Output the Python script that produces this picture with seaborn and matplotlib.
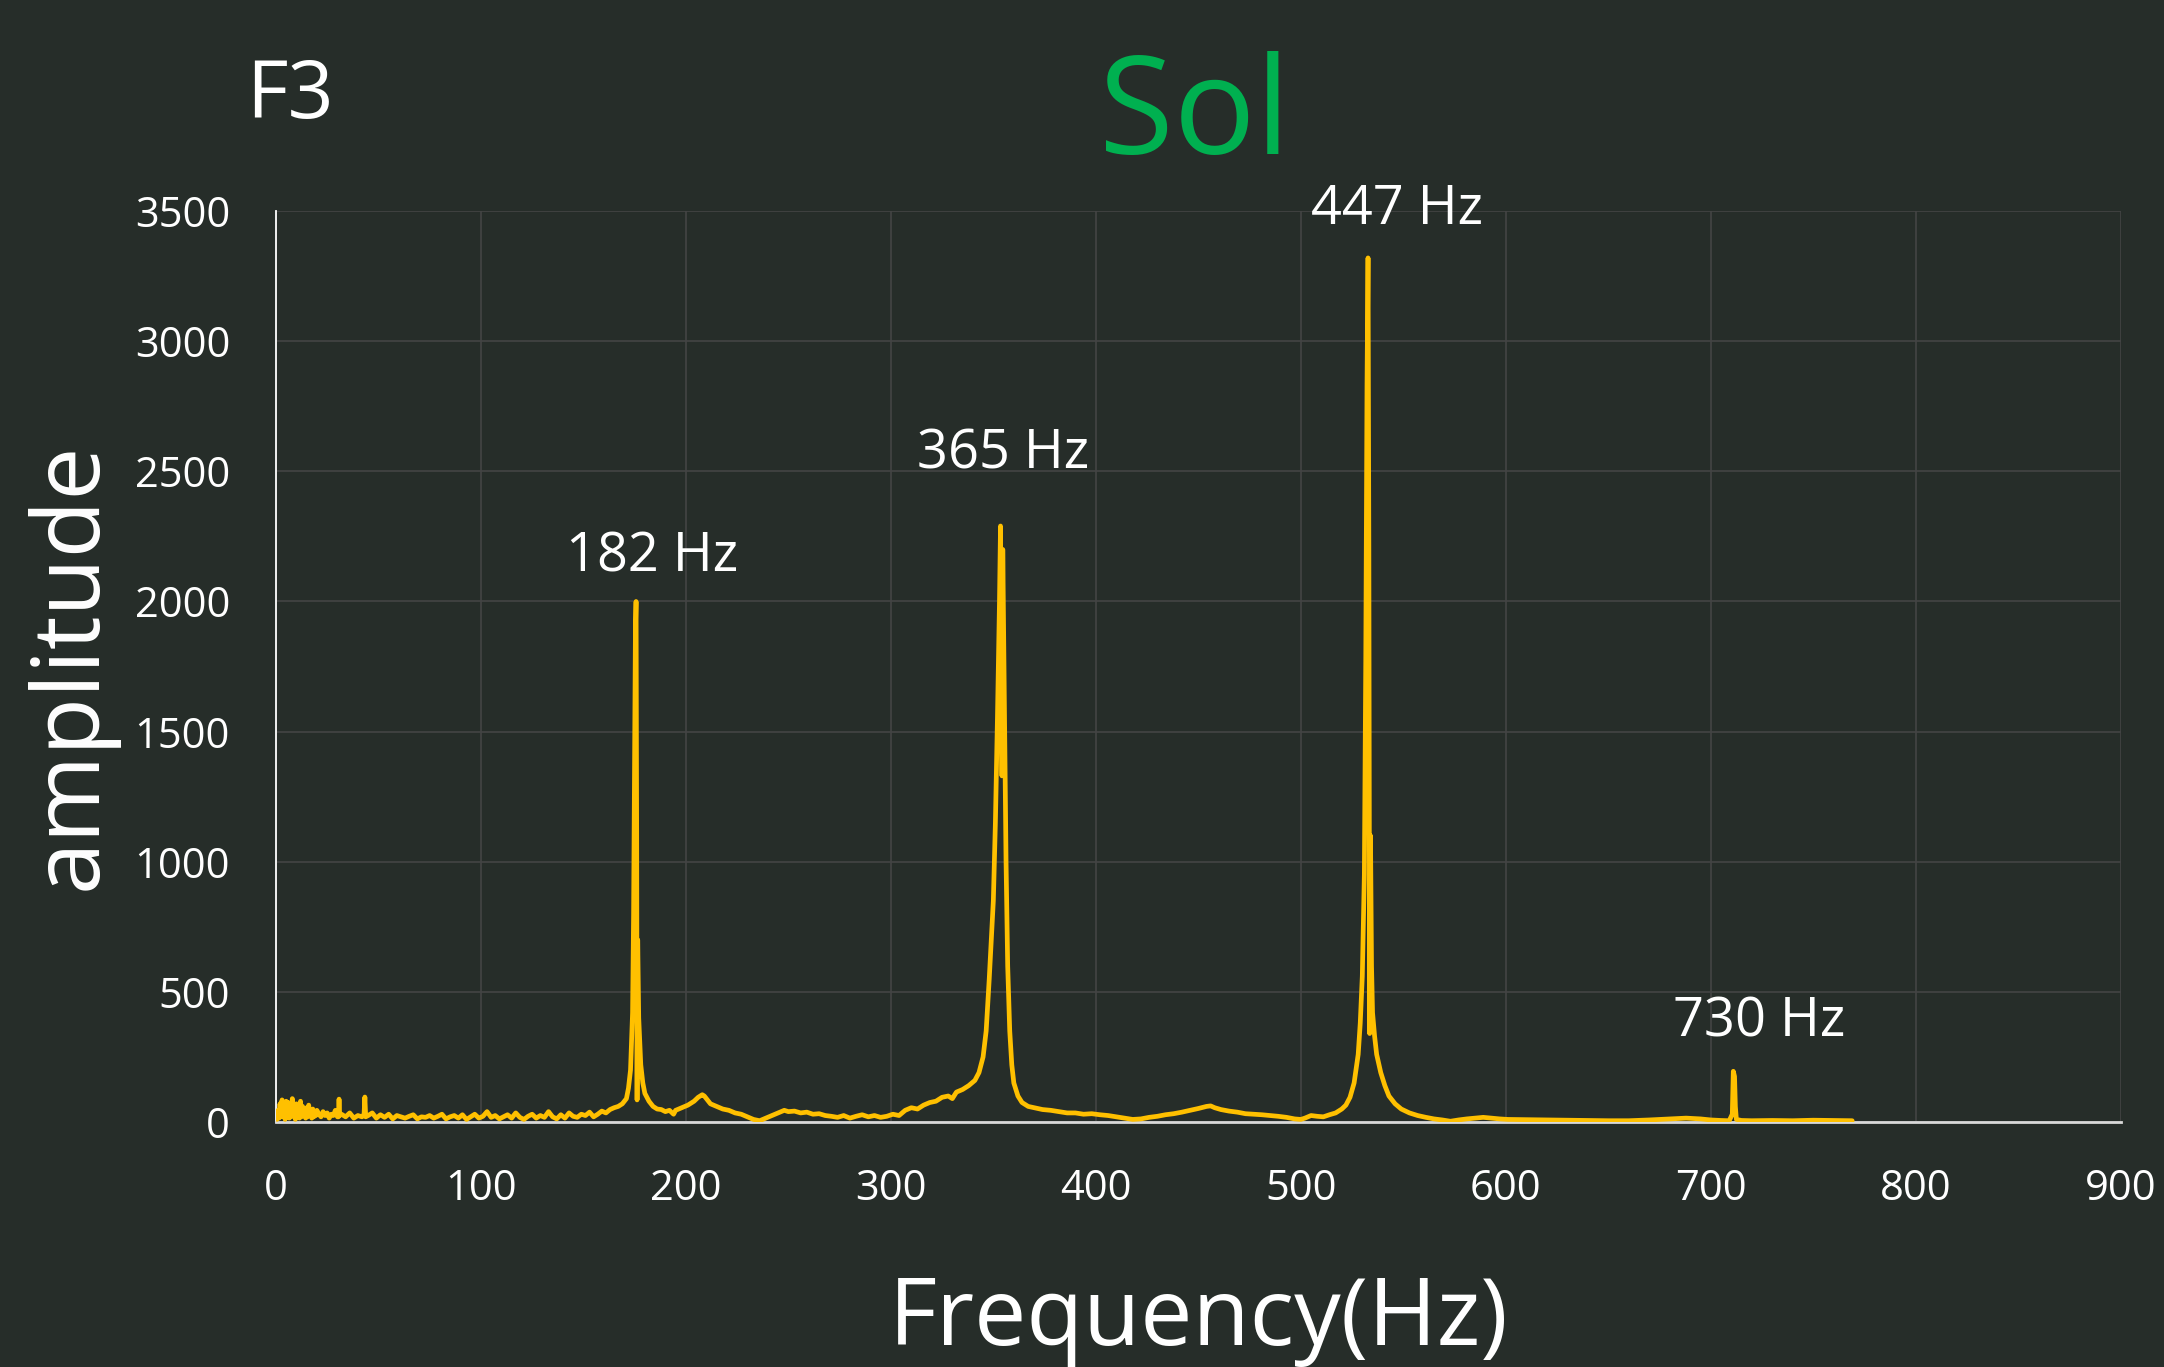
import matplotlib
matplotlib.use("Agg")
import matplotlib.pyplot as plt
import numpy as np
import pandas as pd
import seaborn as sns

# ---------------- data ----------------
freq_hz = [
    0.5, 1, 1.5, 2, 2.5, 3, 3.5, 4, 4.5, 5,
    5.5, 6, 6.5, 7, 7.5, 8, 8.5, 9, 9.5, 10,
    10.5, 11, 11.5, 12, 12.5, 13, 13.5, 14, 14.5, 15,
    15.5, 16, 16.5, 17, 17.5, 18, 18.5, 19, 19.5, 20,
    21, 22, 23, 24, 25, 26, 27, 28, 29, 30,
    30.5, 30.8, 31.1, 32, 34, 36, 38, 40, 42, 43,
    43.4, 43.8, 45, 47, 49, 51, 53, 55, 57, 59,
    61, 63, 65, 67, 69, 71, 73, 75, 77, 79,
    81, 83, 85, 87, 89, 91, 93, 95, 97, 99,
    101, 103, 105, 107, 109, 111, 113, 115, 117, 119,
    121, 123, 125, 127, 129, 131, 133, 135, 137, 139,
    141, 143, 145, 147, 149, 151, 153, 155, 157, 159,
    161, 163, 165, 167, 169, 171, 172, 173, 174, 174.5,
    175, 175.4, 175.7, 176.0, 176.2, 176.5, 177, 178, 179, 180,
    182, 184, 186, 188, 190, 192, 194, 195, 198, 201,
    204, 206, 208, 209, 210, 212, 215, 218, 221, 224,
    227, 230, 233, 236, 239, 242, 245, 248, 250, 253,
    256, 259, 262, 265, 268, 271, 274, 277, 280, 283,
    286, 289, 292, 295, 298, 301, 304, 307, 310, 313,
    316, 319, 322, 325, 328, 330, 332, 335, 338, 341,
    343, 345, 346.5, 348, 349, 349.5, 350, 351, 352, 353,
    353.5, 353.9, 354.2, 354.6, 355, 355.6, 356.2, 357, 358, 359,
    360, 362, 364, 367, 370, 374, 378, 382, 386, 390,
    394, 398, 402, 406, 410, 414, 418, 422, 426, 430,
    434, 438, 442, 446, 450, 454, 456, 458, 461, 465,
    469, 473, 477, 481, 485, 489, 493, 497, 500, 502,
    505, 508, 511, 514, 517, 520, 522, 524, 526, 528,
    529, 530, 531, 531.7, 532.3, 532.8, 533.2, 533.6, 534, 534.5,
    535, 536, 537, 539, 541, 543, 546, 549, 553, 557,
    561, 565, 569, 573, 577, 581, 585, 589, 593, 597,
    601, 610, 620, 630, 640, 650, 660, 670, 680, 688,
    695, 700, 705, 709, 710.5, 711, 711.6, 712, 712.5, 715,
    720, 730, 740, 750, 760, 769,
]
amplitude = [
    10, 45, 15, 70, 20, 85, 25, 60, 10, 80,
    30, 75, 15, 55, 20, 90, 35, 65, 10, 70,
    25, 50, 15, 80, 20, 60, 30, 45, 15, 55,
    20, 65, 25, 40, 15, 50, 20, 35, 25, 45,
    30, 20, 40, 25, 35, 15, 30, 25, 45, 20,
    20, 88, 25, 30, 20, 35, 15, 25, 20, 30,
    96, 20, 25, 35, 15, 28, 18, 30, 12, 25,
    20, 15, 22, 28, 12, 20, 18, 25, 15, 22,
    30, 12, 20, 25, 15, 28, 10, 20, 30, 15,
    22, 40, 18, 25, 12, 20, 28, 15, 35, 18,
    10, 22, 30, 15, 25, 18, 40, 20, 12, 28,
    15, 35, 22, 18, 30, 25, 38, 20, 30, 42,
    35, 48, 55, 60, 70, 90, 130, 200, 420, 800,
    1400, 1900, 2000, 1100, 85, 700, 400, 220, 150, 110,
    80, 60, 50, 48, 40, 45, 30, 45, 55, 65,
    80, 95, 105, 100, 90, 70, 60, 50, 45, 35,
    30, 20, 10, 5, 15, 25, 35, 45, 40, 42,
    35, 38, 30, 32, 25, 22, 18, 25, 15, 22,
    28, 20, 25, 18, 22, 30, 25, 45, 55, 50,
    65, 75, 80, 95, 100, 90, 115, 125, 140, 160,
    190, 250, 350, 550, 700, 780, 850, 1150, 1550, 2000,
    2290, 1700, 1330, 2200, 1900, 1450, 1000, 600, 350, 220,
    150, 100, 75, 60, 55, 48, 45, 40, 35, 35,
    30, 32, 28, 25, 20, 15, 10, 12, 18, 22,
    28, 32, 38, 45, 52, 60, 62, 55, 48, 42,
    38, 32, 30, 28, 25, 22, 18, 12, 10, 15,
    25, 22, 20, 28, 35, 50, 65, 95, 150, 260,
    380, 560, 950, 1780, 2830, 3320, 2200, 340, 1100, 600,
    420, 330, 260, 190, 140, 100, 70, 50, 35, 25,
    18, 12, 8, 3, 8, 12, 15, 18, 15, 12,
    10, 9, 8, 7, 6, 5, 5, 8, 12, 15,
    12, 8, 6, 5, 30, 195, 175, 60, 10, 6,
    5, 6, 5, 7, 6, 5,
]

peak_labels = ["182 Hz", "365 Hz", "447 Hz", "730 Hz"]
peak_label_x = [183.7, 354.7, 547.1, 723.5]
peak_label_y = [2115, 2512, 3450, 329]

x_ticks = [0, 100, 200, 300, 400, 500, 600, 700, 800, 900]
y_ticks = [0, 500, 1000, 1500, 2000, 2500, 3000, 3500]

chart_title = "Sol"
corner_label = "F3"
x_title = "Frequency(Hz)"
y_title = "amplitude"

# ---------------- style ----------------
BG = "#262d29"
GRID = "#444444"
LINE = "#ffc000"
TITLE_GREEN = "#00b050"

sns.set_theme(style="darkgrid", rc={
    "axes.facecolor": BG,
    "figure.facecolor": BG,
    "grid.color": GRID,
    "grid.linewidth": 1.2,
    "text.color": "white",
    "xtick.color": "white",
    "ytick.color": "white",
})
plt.rcParams["font.family"] = ["Open Sans", "DejaVu Sans"]

fig = plt.figure(figsize=(21.64, 13.67), dpi=100, facecolor=BG)
ax = fig.add_axes([0.1275, 0.1792, 0.8525, 0.6664])
ax.set_facecolor(BG)

df = pd.DataFrame({"freq": freq_hz, "amp": amplitude})
sns.lineplot(data=df, x="freq", y="amp", ax=ax, color=LINE, linewidth=3.4,
             estimator=None, sort=False, zorder=5)

ax.set_xlim(0, 900)
ax.set_ylim(0, 3500)
ax.set_xticks(x_ticks)
ax.set_yticks(y_ticks)
ax.set_xlabel("")
ax.set_ylabel("")
ax.tick_params(axis="both", length=0, labelsize=30, colors="white", pad=33)
ax.grid(True, color=GRID, linewidth=1.2)

for side in ["top", "right"]:
    ax.spines[side].set_visible(False)
ax.spines["left"].set_visible(True)
ax.spines["left"].set_color("white")
ax.spines["left"].set_linewidth(1.3)
ax.spines["bottom"].set_visible(True)
ax.spines["bottom"].set_color("#d9d9d9")
ax.spines["bottom"].set_linewidth(2)

for lab, lx, ly in zip(peak_labels, peak_label_x, peak_label_y):
    ax.text(lx, ly, lab, ha="center", va="baseline", fontsize=39,
            color="white", zorder=6, clip_on=False)

fig.text(0.134, 0.914, corner_label, ha="center", va="baseline",
         fontsize=58, color="white")
fig.text(0.552, 0.887, chart_title, ha="center", va="baseline",
         fontsize=98, color=TITLE_GREEN)
fig.text(0.554, 0.016, x_title, ha="center", va="baseline",
         fontsize=67, color="white")
fig.text(0.033, 0.513, y_title, ha="center", va="center", rotation=90,
         fontsize=68, color="white")

fig.savefig("out.png", dpi=100, facecolor=BG)
